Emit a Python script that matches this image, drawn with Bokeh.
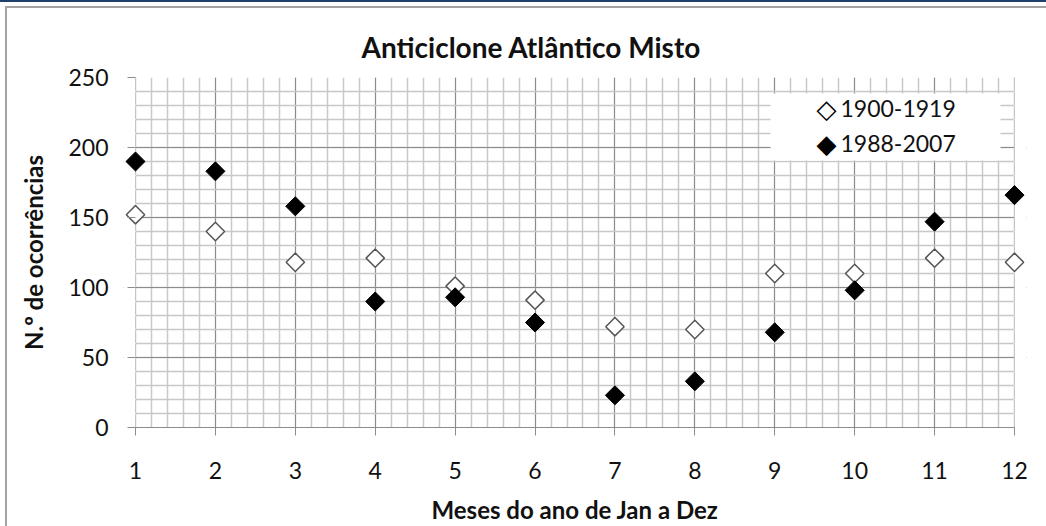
import math
from bokeh.plotting import figure
from bokeh.models import SingleIntervalTicker, Label, BoxAnnotation, InlineStyleSheet
from bokeh.embed import file_html
from bokeh.resources import INLINE

# ---- data ----
months = [1, 2, 3, 4, 5, 6, 7, 8, 9, 10, 11, 12]
serie_1900_1919 = [152, 140, 118, 121, 101, 91, 72, 70, 110, 110, 121, 118]
serie_1988_2007 = [190, 183, 158, 90, 93, 75, 23, 33, 68, 98, 147, 166]
series_names = ["1900-1919", "1988-2007"]
title_text = "Anticiclone Atlântico Misto"
x_label = "Meses do ano de Jan a Dez"
y_label = "N.º de ocorrências"

FONT = "Lato"
MAJOR = "#8c8c8c"
MINOR = "#c8c8c8"
TXT = "#111111"

XMIN, XMAX = months[0], months[-1]
PAD = 0.15  # room so the end markers are not cut by the frame

frame_css = InlineStyleSheet(css="""
:host::before {
  content: ""; position: absolute; left: 5px; top: 6px; right: 0; bottom: 0;
  border-left: 2px solid #a3a3a3; border-top: 2px solid #a3a3a3;
  pointer-events: none; z-index: 10;
}
:host::after {
  content: ""; position: absolute; left: 0; top: 0; right: 0; height: 2px;
  background: #1f3f6e; pointer-events: none; z-index: 10;
}
""")

p = figure(width=1046, height=526, output_backend="svg", toolbar_location=None,
           x_range=(XMIN - PAD, XMAX + PAD), y_range=(0, 250),
           min_border_left=123, min_border_right=20,
           min_border_top=77, min_border_bottom=99,
           stylesheets=[frame_css])
p.outline_line_color = None
p.background_fill_color = "white"
p.border_fill_color = "white"

# title
p.title.text = title_text
p.title.align = "left"
p.title.offset = 238
p.title.standoff = 28
p.title.text_font = FONT
p.title.text_font_style = "bold"
p.title.text_font_size = "28px"
p.title.text_color = TXT

# axes
p.xaxis.ticker = SingleIntervalTicker(interval=1, num_minor_ticks=5)
p.yaxis.ticker = SingleIntervalTicker(interval=50, num_minor_ticks=5)
for ax in (p.xaxis[0], p.yaxis[0]):
    ax.axis_line_color = MAJOR
    ax.major_tick_line_color = MAJOR
    ax.minor_tick_line_color = None
    ax.minor_tick_in = 0
    ax.minor_tick_out = 0
    ax.major_label_text_font = FONT
    ax.major_label_text_font_size = "23px"
    ax.major_label_text_color = TXT
    ax.axis_label_text_font = FONT
    ax.axis_label_text_font_style = "bold"
    ax.axis_label_text_font_size = "24px"
    ax.axis_label_text_color = TXT
p.xaxis.bounds = (XMIN, XMAX)
p.xaxis.major_tick_out = 8
p.xaxis.major_tick_in = 0
p.xaxis.major_label_standoff = 26
p.xaxis.axis_label = x_label
p.xaxis.axis_label_standoff = 13

# y axis sits at the frame edge; its ticks are pulled in to the first month
p.yaxis.axis_line_color = None
p.yaxis.major_tick_in = 12
p.yaxis.major_tick_out = -4
p.yaxis.major_label_standoff = 15
p.yaxis.axis_label = y_label
p.yaxis.axis_label_standoff = 17

# grid
p.xgrid.ticker = p.xaxis.ticker
p.ygrid.ticker = p.yaxis.ticker
p.xgrid.bounds = (XMIN, XMAX)
for g in (p.xgrid[0], p.ygrid[0]):
    g.grid_line_color = MAJOR
    g.grid_line_width = 1
    g.minor_grid_line_color = MINOR
    g.minor_grid_line_width = 1.5

# white masks so the grid stops at the first and last month
p.add_layout(BoxAnnotation(right=XMIN, fill_color="white", fill_alpha=1,
                           line_color=None, level="underlay"))
p.add_layout(BoxAnnotation(left=XMAX, fill_color="white", fill_alpha=1,
                           line_color=None, level="underlay"))

# white box behind the legend
p.add_layout(BoxAnnotation(left=647, right=877, top=334, bottom=267,
                           left_units="screen", right_units="screen",
                           top_units="screen", bottom_units="screen",
                           fill_color="white", fill_alpha=1, line_color=None,
                           level="underlay"))

# data marks
p.scatter(months, serie_1900_1919, marker="square", angle=math.pi / 4,
          size=13, fill_color="white", line_color="#555555", line_width=1.5)
p.scatter(months, serie_1988_2007, marker="square", angle=math.pi / 4,
          size=13.5, fill_color="black", line_color="black", line_width=1)

# legend (symbols + texts)
for sym, name, ly in (("\u25c7", series_names[0], 319), ("\u25c6", series_names[1], 284)):
    p.add_layout(Label(x=703, y=ly, x_units="screen", y_units="screen",
                       text=sym, text_align="center", text_baseline="middle",
                       text_font="DejaVu Sans", text_font_size="26px",
                       text_color="#000000"))
    p.add_layout(Label(x=717, y=ly, x_units="screen", y_units="screen",
                       text=name, text_align="left", text_baseline="middle",
                       text_font=FONT, text_font_size="23px", text_color=TXT))

open("out.html", "w").write(file_html(p, INLINE))
